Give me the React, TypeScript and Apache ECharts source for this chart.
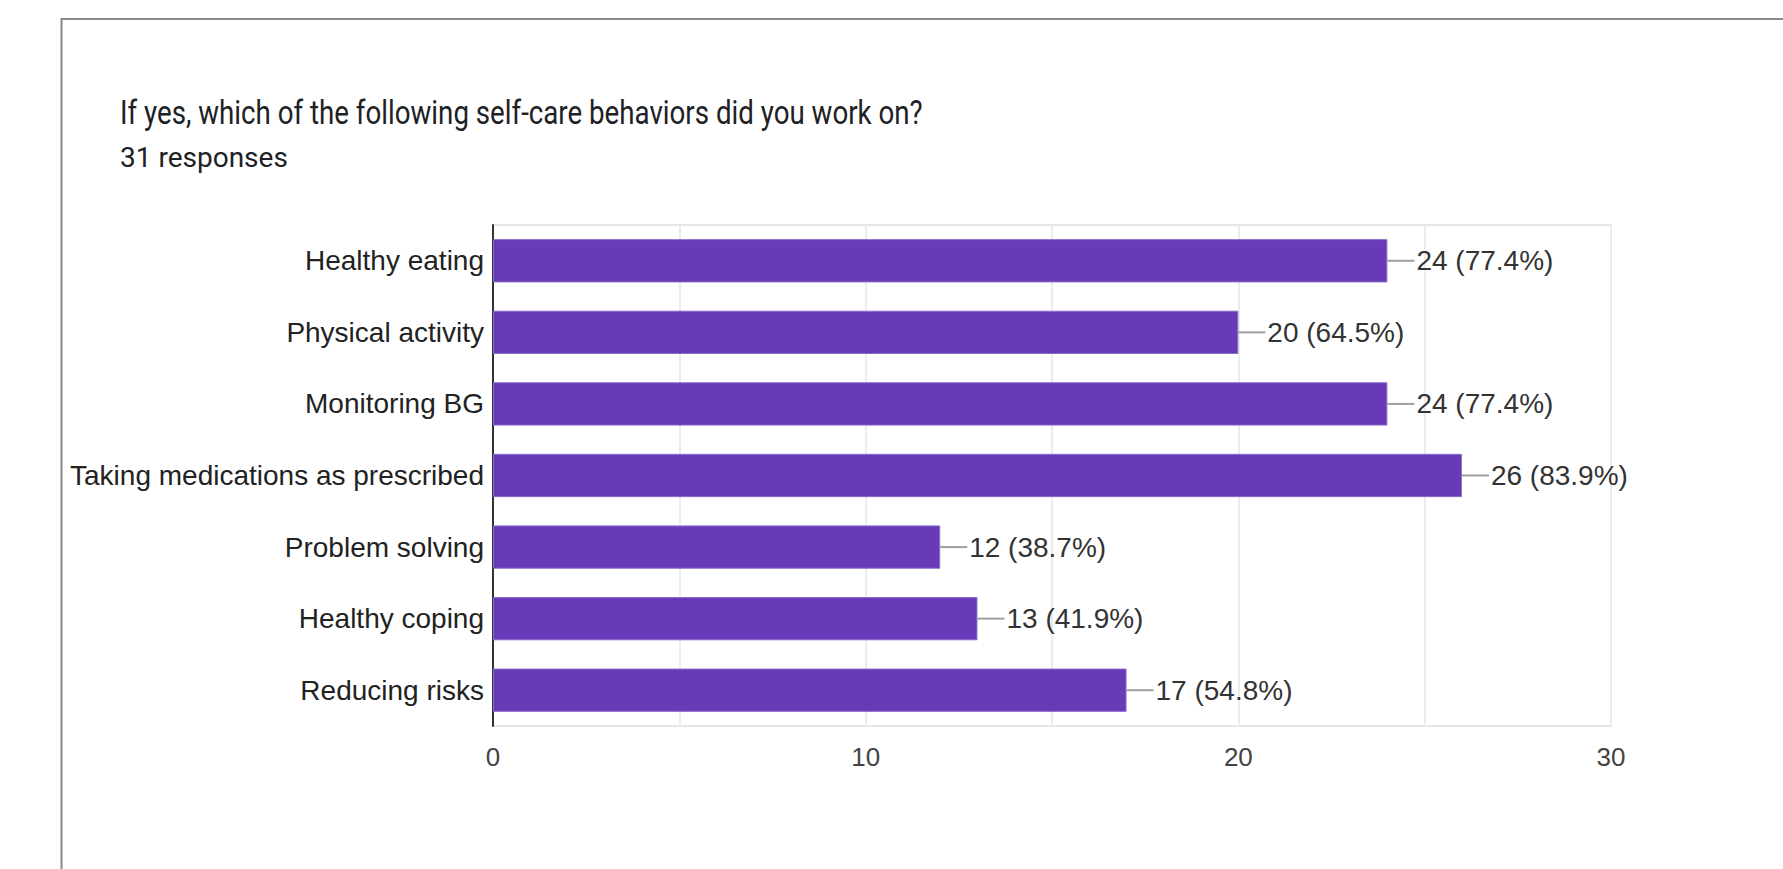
import React, { useEffect, useRef } from "react";
import * as echarts from "echarts";

const titleText = "If yes, which of the following self-care behaviors did you work on?";
const subtitleText = "31 responses";
const categories = [
  "Healthy eating",
  "Physical activity",
  "Monitoring BG",
  "Taking medications as prescribed",
  "Problem solving",
  "Healthy coping",
  "Reducing risks",
];
const counts = [24, 20, 24, 26, 12, 13, 17];
const percentLabels = ["77.4%", "64.5%", "77.4%", "83.9%", "38.7%", "41.9%", "54.8%"];
const xTicks = [0, 10, 20, 30];

export default function App() {
  const ref = useRef<HTMLDivElement>(null);
  useEffect(() => {
    if (!ref.current) return;
    const chart = echarts.init(ref.current, undefined, { renderer: "svg" });
    const labelTexts = counts.map((c, i) => `${c} (${percentLabels[i]})`);
    chart.setOption({
      animation: false,
      backgroundColor: "#ffffff",
      graphic: [
        {
          type: "rect",
          shape: { x: 61.5, y: 19, width: 1900, height: 1000 },
          style: { fill: "none", stroke: "#8a8a8a", lineWidth: 2 },
          silent: true,
        },
        {
          type: "text",
          x: 120,
          y: 112,
          scaleX: 0.815,
          style: {
            text: titleText,
            font: '34px Roboto',
            fill: "#202124",
            verticalAlign: "middle",
            align: "left",
          },
        },
        {
          type: "text",
          x: 120,
          y: 157,
          style: {
            text: subtitleText,
            font: '28px Roboto',
            fill: "#202124",
            verticalAlign: "middle",
            align: "left",
          },
        },
      ],
      grid: {
        left: 493,
        top: 225,
        right: 172,
        bottom: 143,
        containLabel: false,
        show: true,
        borderColor: "#e6e6e6",
        borderWidth: 2,
        backgroundColor: "transparent",
      },
      xAxis: {
        type: "value",
        min: 0,
        max: 30,
        interval: 5,
        axisLine: { show: false },
        axisTick: { show: false },
        splitLine: { show: true, lineStyle: { color: "#ececec", width: 2 } },
        axisLabel: {
          margin: 18,
          color: "#444444",
          fontFamily: "Liberation Sans",
          fontSize: 26,
          formatter: (v: number) => (xTicks.includes(v) ? String(v) : ""),
        },
      },
      yAxis: {
        type: "category",
        data: categories,
        inverse: true,
        axisLine: { show: true, lineStyle: { color: "#333333", width: 2 } },
        axisTick: { show: false },
        splitLine: { show: false },
        axisLabel: {
          margin: 9,
          color: "#222222",
          fontFamily: "Liberation Sans",
          fontSize: 28,
        },
      },
      series: [
        {
          type: "bar",
          data: counts,
          barCategoryGap: "39.5%",
          itemStyle: { color: "#673ab7", borderColor: "#8c6bcc", borderWidth: 1 },
          silent: true,
        },
        {
          type: "custom",
          data: counts.map((c, i) => [c, i]),
          encode: { x: 0, y: 1 },
          silent: true,
          z: 5,
          renderItem: (params: any, api: any) => {
            const p = api.coord([api.value(0), api.value(1)]);
            const idx = params.dataIndex;
            return {
              type: "group",
              children: [
                {
                  type: "line",
                  shape: { x1: p[0], y1: p[1], x2: p[0] + 27, y2: p[1] },
                  style: { stroke: "#9e9e9e", lineWidth: 2 },
                },
                {
                  type: "text",
                  x: p[0] + 29,
                  y: p[1],
                  style: {
                    text: labelTexts[idx],
                    font: '28px "Liberation Sans"',
                    fill: "#333333",
                    verticalAlign: "middle",
                    align: "left",
                  },
                },
              ],
            };
          },
        },
      ],
    });
    return () => chart.dispose();
  }, []);
  return (
    <div
      ref={ref}
      style={{ position: "fixed", left: 0, top: 0, width: 1783, height: 869 }}
    />
  );
}
